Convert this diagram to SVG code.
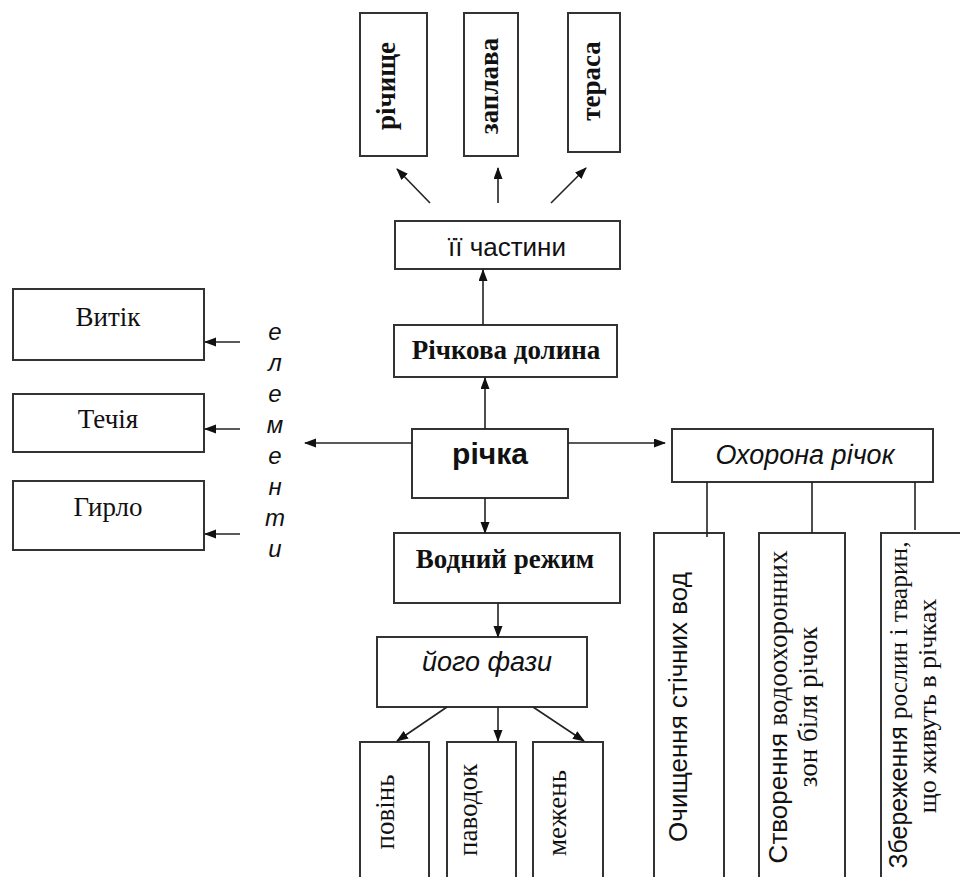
<svg xmlns="http://www.w3.org/2000/svg" width="960" height="877" viewBox="0 0 960 877">
<defs>
<marker id="ah" markerUnits="userSpaceOnUse" markerWidth="12" markerHeight="10" refX="11" refY="4.5" orient="auto">
<path d="M0,0 L12,4.5 L0,9 z" fill="#111"/>
</marker>
<style>
.box{fill:#fff;stroke:#333;stroke-width:2}
.con{stroke:#222;stroke-width:1.6;fill:none}
.arr{stroke:#222;stroke-width:1.6;fill:none;marker-end:url(#ah)}
.serif{font-family:"Liberation Serif","Times New Roman",serif;fill:#111}
.sans{font-family:"Liberation Sans",Arial,sans-serif;fill:#111}
.b{font-weight:bold}
.i{font-style:italic}
</style>
</defs>
<rect width="960" height="877" fill="#fff"/>

<g id="n-richyshche"><rect class="box" x="360" y="13" width="67" height="143"/><text class="serif b" font-size="27" text-anchor="middle" transform="translate(395,86) rotate(-90)">річище</text></g>
<g id="n-zaplava"><rect class="box" x="464" y="13" width="54" height="143"/><text class="serif b" font-size="27" text-anchor="middle" transform="translate(498,86) rotate(-90)">заплава</text></g>
<g id="n-terasa"><rect class="box" x="568" y="13" width="52" height="139"/><text class="serif b" font-size="27" text-anchor="middle" transform="translate(600,81) rotate(-90)">тераса</text></g>

<g id="n-chastyny"><rect class="box" x="395" y="221" width="225" height="48"/><text class="sans" font-size="26" text-anchor="middle" x="507" y="256">її частини</text></g>
<g id="n-dolyna"><rect class="box" x="394" y="325" width="223" height="52"/><text class="serif b" font-size="27" text-anchor="middle" x="506" y="359">Річкова долина</text></g>
<g id="n-richka"><rect class="box" x="412" y="429" width="156" height="69"/><text class="sans b" font-size="30" text-anchor="middle" x="490" y="464">річка</text></g>
<g id="n-rezhym"><rect class="box" x="394" y="533" width="226" height="70"/><text class="serif b" font-size="27" text-anchor="middle" x="505" y="568">Водний режим</text></g>
<g id="n-fazy"><rect class="box" x="377" y="637" width="210" height="70"/><text class="sans i" font-size="27" text-anchor="middle" x="487" y="671">його фази</text></g>

<g id="n-povin"><rect class="box" x="360" y="742" width="69" height="160"/><text class="serif" font-size="27" text-anchor="middle" transform="translate(394,812) rotate(-90)">повінь</text></g>
<g id="n-pavodok"><rect class="box" x="447" y="742" width="69" height="160"/><text class="serif" font-size="27" text-anchor="middle" transform="translate(477,810) rotate(-90)">паводок</text></g>
<g id="n-mezhen"><rect class="box" x="533" y="742" width="70" height="160"/><text class="serif" font-size="27" text-anchor="middle" transform="translate(566,813) rotate(-90)">межень</text></g>

<g id="n-vytik"><rect class="box" x="13" y="289" width="191" height="71"/><text class="serif" font-size="27" text-anchor="middle" x="108" y="326">Витік</text></g>
<g id="n-techia"><rect class="box" x="13" y="394" width="191" height="58"/><text class="serif" font-size="27" text-anchor="middle" x="108" y="428">Течія</text></g>
<g id="n-hyrlo"><rect class="box" x="13" y="481" width="191" height="69"/><text class="serif" font-size="27" text-anchor="middle" x="108" y="516">Гирло</text></g>

<g id="n-elementy" class="sans i" font-size="24" text-anchor="middle">
<text x="275" y="340">е</text><text x="275" y="371">л</text><text x="275" y="402">е</text><text x="275" y="433">м</text><text x="275" y="464">е</text><text x="275" y="495">н</text><text x="275" y="526">т</text><text x="275" y="557">и</text>
</g>

<g id="n-okhorona"><rect class="box" x="672" y="429" width="261" height="53"/><text class="sans i" font-size="27" text-anchor="middle" x="805" y="464">Охорона річок</text></g>
<g id="n-ochyshchennia"><rect class="box" x="654" y="533" width="70" height="370"/><text class="sans" font-size="26" text-anchor="middle" transform="translate(687,707) rotate(-90)">Очищення стічних вод</text></g>
<g id="n-stvorennia"><rect class="box" x="759" y="533" width="86" height="370"/><text class="sans" font-size="26" text-anchor="middle" transform="translate(787,707) rotate(-90)">Створення <tspan class="serif" font-size="27">водоохоронних</tspan></text><text class="serif" font-size="27" text-anchor="middle" transform="translate(817,707) rotate(-90)">зон біля річок</text></g>
<g id="n-zberezhennia"><rect class="box" x="881" y="533" width="100" height="370"/><text class="sans" font-size="25" text-anchor="middle" transform="translate(907,705) rotate(-90)">Збереження <tspan class="serif" font-size="25.5">рослин і тварин,</tspan></text><text class="serif" font-size="26" text-anchor="middle" transform="translate(936,706) rotate(-90)">що живуть в річках</text></g>

<g id="connectors">
<line class="arr" x1="430" y1="203" x2="397" y2="169"/>
<line class="arr" x1="498" y1="203" x2="498" y2="168"/>
<line class="arr" x1="551" y1="203" x2="586" y2="168"/>
<line class="arr" x1="483" y1="325" x2="483" y2="270"/>
<line class="arr" x1="485" y1="429" x2="485" y2="378"/>
<line class="arr" x1="412" y1="443" x2="305" y2="443"/>
<line class="arr" x1="568" y1="443" x2="665" y2="443"/>
<line class="arr" x1="485" y1="498" x2="485" y2="533"/>
<line class="arr" x1="498" y1="603" x2="498" y2="637"/>
<line class="arr" x1="447" y1="707" x2="397" y2="741"/>
<line class="arr" x1="498" y1="707" x2="498" y2="741"/>
<line class="arr" x1="533" y1="707" x2="584" y2="741"/>
<line class="arr" x1="240" y1="342" x2="205" y2="342"/>
<line class="arr" x1="240" y1="429" x2="205" y2="429"/>
<line class="arr" x1="240" y1="534" x2="205" y2="534"/>
<line class="con" x1="707" y1="482" x2="707" y2="537"/>
<line class="con" x1="812" y1="482" x2="812" y2="533"/>
<line class="con" x1="915" y1="482" x2="915" y2="530"/>
</g>
</svg>
